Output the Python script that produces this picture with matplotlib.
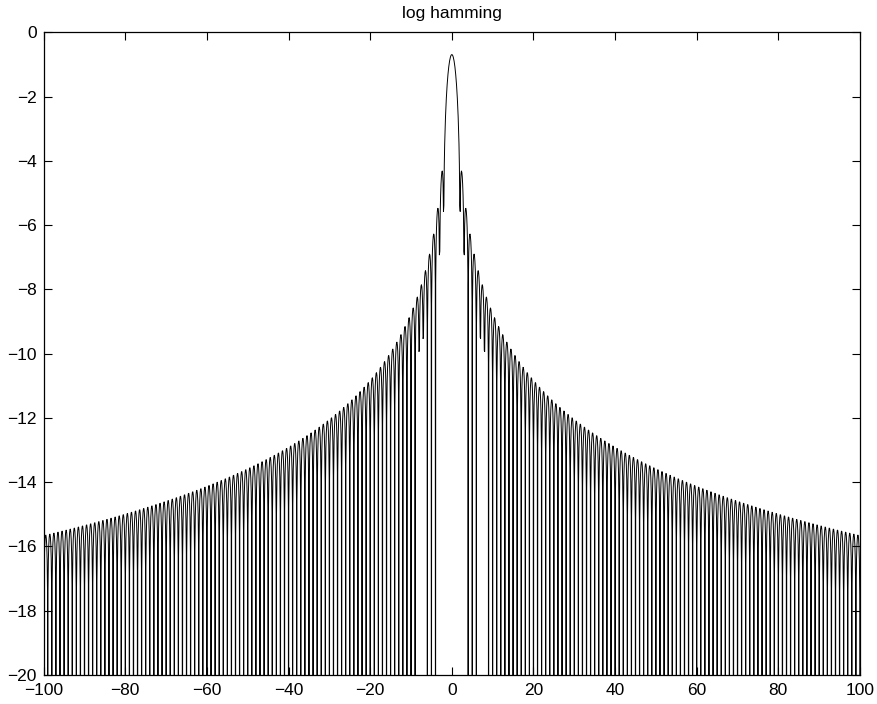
import numpy as np
import matplotlib
matplotlib.use("Agg")
import matplotlib.pyplot as plt

# Chart definition: log-magnitude spectrum of a raised-cosine window
title = "log hamming"
x_range = [-100, 100]
coarse_step = 0.1            # base sampling of the curve
coarse_offset = 0.05         # base grid sits between the integer nulls
window_coeffs = [0.5, 0.25, 0.25]   # centre, lower and upper shifted sinc weights
# nulls (in bins) that the reference draws all the way down to the axis floor
deep_null_min = 9
deep_nulls_centre = [4, 5, 6]
x_ticks = [-100, -80, -60, -40, -20, 0, 20, 40, 60, 80, 100]
y_ticks = [-20, -18, -16, -14, -12, -10, -8, -6, -4, -2, 0]
y_limits = [-20, 0]

n_coarse = int(round((x_range[1] - x_range[0]) / coarse_step))
x_coarse = x_range[0] + coarse_offset + coarse_step * np.arange(n_coarse)
nulls = np.arange(x_range[0], x_range[1] + 1)
deep = nulls[(np.abs(nulls) >= deep_null_min) | np.isin(np.abs(nulls), deep_nulls_centre)]
x = np.unique(np.concatenate([x_coarse, deep.astype(float)]))

spec = (window_coeffs[0] * np.sinc(x)
        + window_coeffs[1] * np.sinc(x - 1)
        + window_coeffs[2] * np.sinc(x + 1))
y = np.log(np.maximum(np.abs(spec), 1e-30))
y = np.maximum(y, -40)

plt.rcParams['font.family'] = ['Liberation Sans', 'DejaVu Sans']
fig = plt.figure(figsize=(8.77, 7.04), dpi=100)
ax = fig.add_axes([0.0498, 0.0412, 0.9308, 0.9129])
ax.plot(x, y, color='black', linewidth=0.7)
ax.set_xlim(x_range)
ax.set_ylim(y_limits)
ax.set_xticks(x_ticks)
ax.set_yticks(y_ticks)
ax.tick_params(direction='in', top=True, right=True, labelsize=12.5, length=6, width=0.8)
ax.tick_params(axis='x', pad=6)
ax.tick_params(axis='y', pad=5)
for s in ax.spines.values():
    s.set_linewidth(0.9)
ax.set_title(title, fontsize=12.5, pad=10)
fig.savefig("out.png", dpi=100)
